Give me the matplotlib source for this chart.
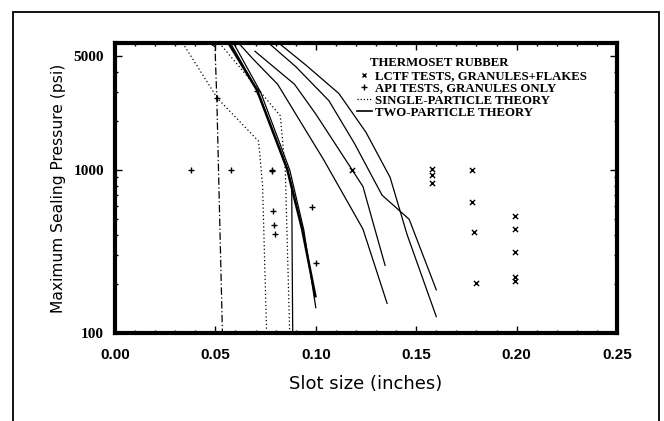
import matplotlib
matplotlib.use("Agg")
import matplotlib.pyplot as plt
from matplotlib.ticker import FixedLocator, NullFormatter, MultipleLocator, FixedFormatter
from matplotlib.patches import Rectangle
from matplotlib.lines import Line2D

# ---- data ----
lctf_x = [0.118, 0.158, 0.158, 0.158, 0.178, 0.178, 0.179, 0.180, 0.199, 0.199, 0.199, 0.199, 0.199]
lctf_y = [1000, 1020, 930, 830, 1000, 635, 414, 204, 520, 432, 316, 222, 208]

api_x = [0.038, 0.058, 0.078, 0.078, 0.0785, 0.079, 0.0795, 0.098, 0.100, 0.051, 0.0705]
api_y = [1000, 1000, 1000, 980, 558, 458, 403, 590, 267, 2750, 3050]

single_curves = [
    ([0.0337, 0.051, 0.0715, 0.0735, 0.0755], [6000, 2750, 1500, 800, 100]),
    ([0.052, 0.0823, 0.0848, 0.0870], [6000, 2150, 1000, 100]),
]

dashdot_curve = ([0.047, 0.0498, 0.0507, 0.0535], [6000, 5700, 2740, 100])

two_curves = [
    ([0.0565, 0.0707, 0.0857, 0.0932, 0.0998], [6000, 3090, 1015, 432, 168]),
    ([0.0590, 0.0725, 0.0870, 0.0940, 0.1000], [6000, 3000, 1000, 430, 143]),
    ([0.0575, 0.0710, 0.0860, 0.0880, 0.0885], [6000, 3050, 1000, 800, 100]),
    ([0.0615, 0.0690, 0.0810, 0.0915, 0.1040, 0.1170, 0.1235, 0.1355], [6000, 4750, 3350, 2055, 1150, 600, 433, 152]),
    ([0.0697, 0.0894, 0.1000, 0.1170, 0.1235, 0.1280, 0.1345], [5340, 3350, 2200, 1050, 790, 500, 260]),
    ([0.0765, 0.0900, 0.1065, 0.1193, 0.1330, 0.1465, 0.1600], [6000, 4300, 2660, 1450, 700, 498, 184]),
    ([0.0815, 0.0950, 0.1115, 0.1250, 0.1370, 0.1455, 0.1600], [6000, 4400, 2940, 1700, 900, 400, 126]),
]

x_ticks = [0.00, 0.05, 0.10, 0.15, 0.20, 0.25]
x_ticklabels = ["0.00", "0.05", "0.10", "0.15", "0.20", "0.25"]
y_ticks = [100, 1000, 5000]
y_ticklabels = ["100", "1000", "5000"]

# ---- figure ----
fig = plt.figure(figsize=(6.64, 4.21), dpi=100)
ax = fig.add_axes([115/664, (421-333)/421, (617-115)/664, (333-43)/421])

for xs, ys in single_curves:
    ax.plot(xs, ys, color="black", lw=0.9, ls=(0, (1, 2)))
ax.plot(*dashdot_curve, color="black", lw=0.9, ls=(0, (6, 2, 1, 2)))
for i, (xs, ys) in enumerate(two_curves):
    ax.plot(xs, ys, color="black", lw=1.8 if i == 0 else 0.9, ls="-")

ax.scatter(lctf_x, lctf_y, marker="x", s=14, color="black", linewidths=1.0, zorder=3)
ax.scatter(api_x, api_y, marker="+", s=16, color="black", linewidths=1.0, zorder=3)

ax.set_yscale("log")
ax.set_xlim(0, 0.25)
ax.set_ylim(100, 6000)

ax.xaxis.set_major_locator(FixedLocator(x_ticks))
ax.xaxis.set_major_formatter(FixedFormatter(x_ticklabels))
ax.xaxis.set_minor_locator(MultipleLocator(0.01))
ax.yaxis.set_major_locator(FixedLocator(y_ticks))
ax.yaxis.set_major_formatter(FixedFormatter(y_ticklabels))
ax.yaxis.set_minor_locator(FixedLocator([v * d for d in (100, 1000) for v in range(2, 10)]))
ax.yaxis.set_minor_formatter(NullFormatter())

ax.tick_params(which="both", direction="in", top=True, right=True, width=1.0)
ax.tick_params(which="major", length=5)
ax.tick_params(which="minor", length=2.5)
ax.tick_params(axis="x", which="major", pad=11)
ax.tick_params(axis="y", which="major", pad=8)
for lab in ax.get_xticklabels():
    lab.set_fontfamily("Liberation Sans")
    lab.set_fontsize(11)
    lab.set_fontweight("bold")
for lab in ax.get_yticklabels():
    lab.set_fontfamily("Liberation Serif")
    lab.set_fontsize(11)
    lab.set_fontweight("bold")

for sp in ax.spines.values():
    sp.set_linewidth(3.0)

ax.set_xlabel("Slot size (inches)", fontsize=13, family="DejaVu Sans", labelpad=9)
ax.set_ylabel("Maximum Sealing Pressure (psi)", fontsize=11.2, family="DejaVu Sans", labelpad=5)

handles = [
    Line2D([], [], color="black", marker="x", ls="none", markersize=3.5),
    Line2D([], [], color="black", marker="+", ls="none", markersize=4),
    Line2D([], [], color="black", ls=(0, (1, 1.5)), lw=0.9),
    Line2D([], [], color="black", ls="-", lw=1.2),
]
labels = ["LCTF TESTS, GRANULES+FLAKES", "API TESTS, GRANULES ONLY",
          "SINGLE-PARTICLE THEORY", "TWO-PARTICLE THEORY"]
leg = ax.legend(handles, labels, loc="upper left",
                bbox_to_anchor=((357-115)/502, (333-70)/290), frameon=False,
                handlelength=1.15, handletextpad=0.25, labelspacing=0.02,
                borderaxespad=0, borderpad=0,
                prop={"family": "Liberation Serif", "weight": "bold", "size": 9.2})
ax.text((370-115)/502, (333-63)/290, "THERMOSET RUBBER", transform=ax.transAxes,
        ha="left", va="center", family="Liberation Serif", weight="bold", fontsize=9.2)

fig.patches.append(Rectangle((13/664, -0.05), (659-13)/664, (421-12)/421 + 0.05,
                             transform=fig.transFigure, fill=False, lw=1.3, color="black"))

fig.savefig("out.png", dpi=100)
